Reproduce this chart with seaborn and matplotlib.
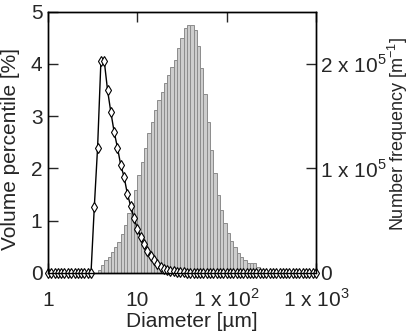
import numpy as np
import matplotlib
matplotlib.use('Agg')
import matplotlib.pyplot as plt
import seaborn as sns
from matplotlib.ticker import NullLocator

# 粒径网格 (µm)，对数等间隔
diameter = [1.00, 1.09, 1.19, 1.29, 1.41, 1.53, 1.67, 1.82, 1.98, 2.15, 2.35, 2.56, 2.78, 3.03,
            3.30, 3.59, 3.91, 4.26, 4.64, 5.05, 5.50, 5.99, 6.53, 7.11, 7.74, 8.43, 9.18,
            10.0, 10.9, 11.9, 12.9, 14.1, 15.3, 16.7, 18.2, 19.8, 21.5, 23.5, 25.6, 27.8,
            30.3, 33.0, 35.9, 39.1, 42.6, 46.4, 50.5, 55.0, 59.9, 65.3, 71.1, 77.4, 84.3, 91.8,
            100, 109, 119, 129, 141, 153, 167, 182, 198, 215, 235, 256, 278, 303, 330,
            359, 391, 426, 464, 505, 550, 599, 653, 711, 774, 843, 918, 1000]

# 体积百分比（每个区间一个值）
volume_pct = ([0.0] * 15 +
              [0.06, 0.15, 0.25, 0.31, 0.40, 0.49, 0.60, 0.75, 0.92, 1.14,
               1.33, 1.59, 1.87, 2.13, 2.39, 2.68, 2.89, 3.12, 3.31, 3.47,
               3.63, 3.79, 3.94, 4.07, 4.30, 4.50, 4.68, 4.75, 4.75, 4.65,
               4.35, 3.93, 3.42, 2.88, 2.36, 1.91, 1.50, 1.20, 0.95, 0.76,
               0.61, 0.49, 0.39, 0.31, 0.25, 0.20, 0.19, 0.19, 0.11, 0.04] +
              [0.0] * 16)

# 数量频率 (x 1e5 m^-1)
number_freq = ([0.0] * 14 +
               [0.635, 1.20, 2.025, 2.03, 1.75, 1.54, 1.35, 1.20, 1.03, 0.92,
                0.755, 0.64, 0.525, 0.425, 0.345, 0.275, 0.215, 0.165, 0.12, 0.085,
                0.06, 0.04, 0.03, 0.02, 0.015, 0.01, 0.005, 0.005] +
               [0.0] * 40)

x_ticks = [1, 10, 100, 1000]
x_ticklabels = ['1', '10', r'1 x 10$^{\mathregular{2}}$', r'1 x 10$^{\mathregular{3}}$']
y2_ticks = [0, 1e5, 2e5]
y2_ticklabels = ['0', r'1 x 10$^{\mathregular{5}}$', r'2 x 10$^{\mathregular{5}}$']

sns.set_style('ticks')
plt.rcParams['font.family'] = ['Liberation Sans', 'DejaVu Sans']
plt.rcParams['mathtext.fontset'] = 'custom'
plt.rcParams['mathtext.rm'] = 'Liberation Sans'
plt.rcParams['axes.linewidth'] = 1.0

fs = 15
fig = plt.figure(figsize=(4.09, 3.36), dpi=100)
ax = fig.add_axes([48 / 409, 1 - 273 / 336, 268 / 409, 261.3 / 336])

# 柱状图：体积百分比
sns.histplot(x=diameter[:-1], weights=volume_pct, bins=diameter, ax=ax,
             color='#cdcdcd', edgecolor='#8c8c8c', linewidth=0.7, alpha=1)
ax.set_xscale('log')
ax.set_xlim(1, 1000)
ax.set_ylim(0, 5)
ax.xaxis.set_minor_locator(NullLocator())
ax.set_xticks(x_ticks)
ax.set_xticklabels(x_ticklabels)
ax.set_yticks([0, 1, 2, 3, 4, 5])
ax.tick_params(axis='x', direction='in', length=7, width=1, top=True,
               labelsize=fs, pad=24)
ax.tick_params(axis='y', direction='in', length=7, width=1, right=False,
               labelsize=fs, pad=4)
for lab in ax.get_xticklabels():
    lab.set_va('baseline')
ax.set_xlabel('Diameter [µm]', fontsize=fs)
ax.xaxis.set_label_coords(0.535, -0.149)
ax.set_ylabel('Volume percentile [%]', fontsize=fs)
ax.yaxis.set_label_coords(-0.104, 0.476)

# 折线：数量频率
ax2 = ax.twinx()
sns.lineplot(x=diameter, y=np.array(number_freq) * 1e5, ax=ax2, color='black',
             linewidth=1, marker='d', markersize=5.6, markerfacecolor='white',
             markeredgecolor='black', markeredgewidth=0.8, clip_on=False)
ax2.set_ylim(0, 2.5e5)
ax2.set_yticks(y2_ticks)
ax2.set_yticklabels(y2_ticklabels)
ax2.tick_params(axis='y', direction='in', length=7, width=1, labelsize=fs, pad=3)
ax2.set_ylabel(r'Number frequency [m$^{\mathregular{-1}}$]', fontsize=13)
ax2.yaxis.set_label_coords(1.262, 0.53)

for a in (ax, ax2):
    for s in a.spines.values():
        s.set_color('black')
        s.set_linewidth(1)

fig.savefig('out.png', dpi=100)
